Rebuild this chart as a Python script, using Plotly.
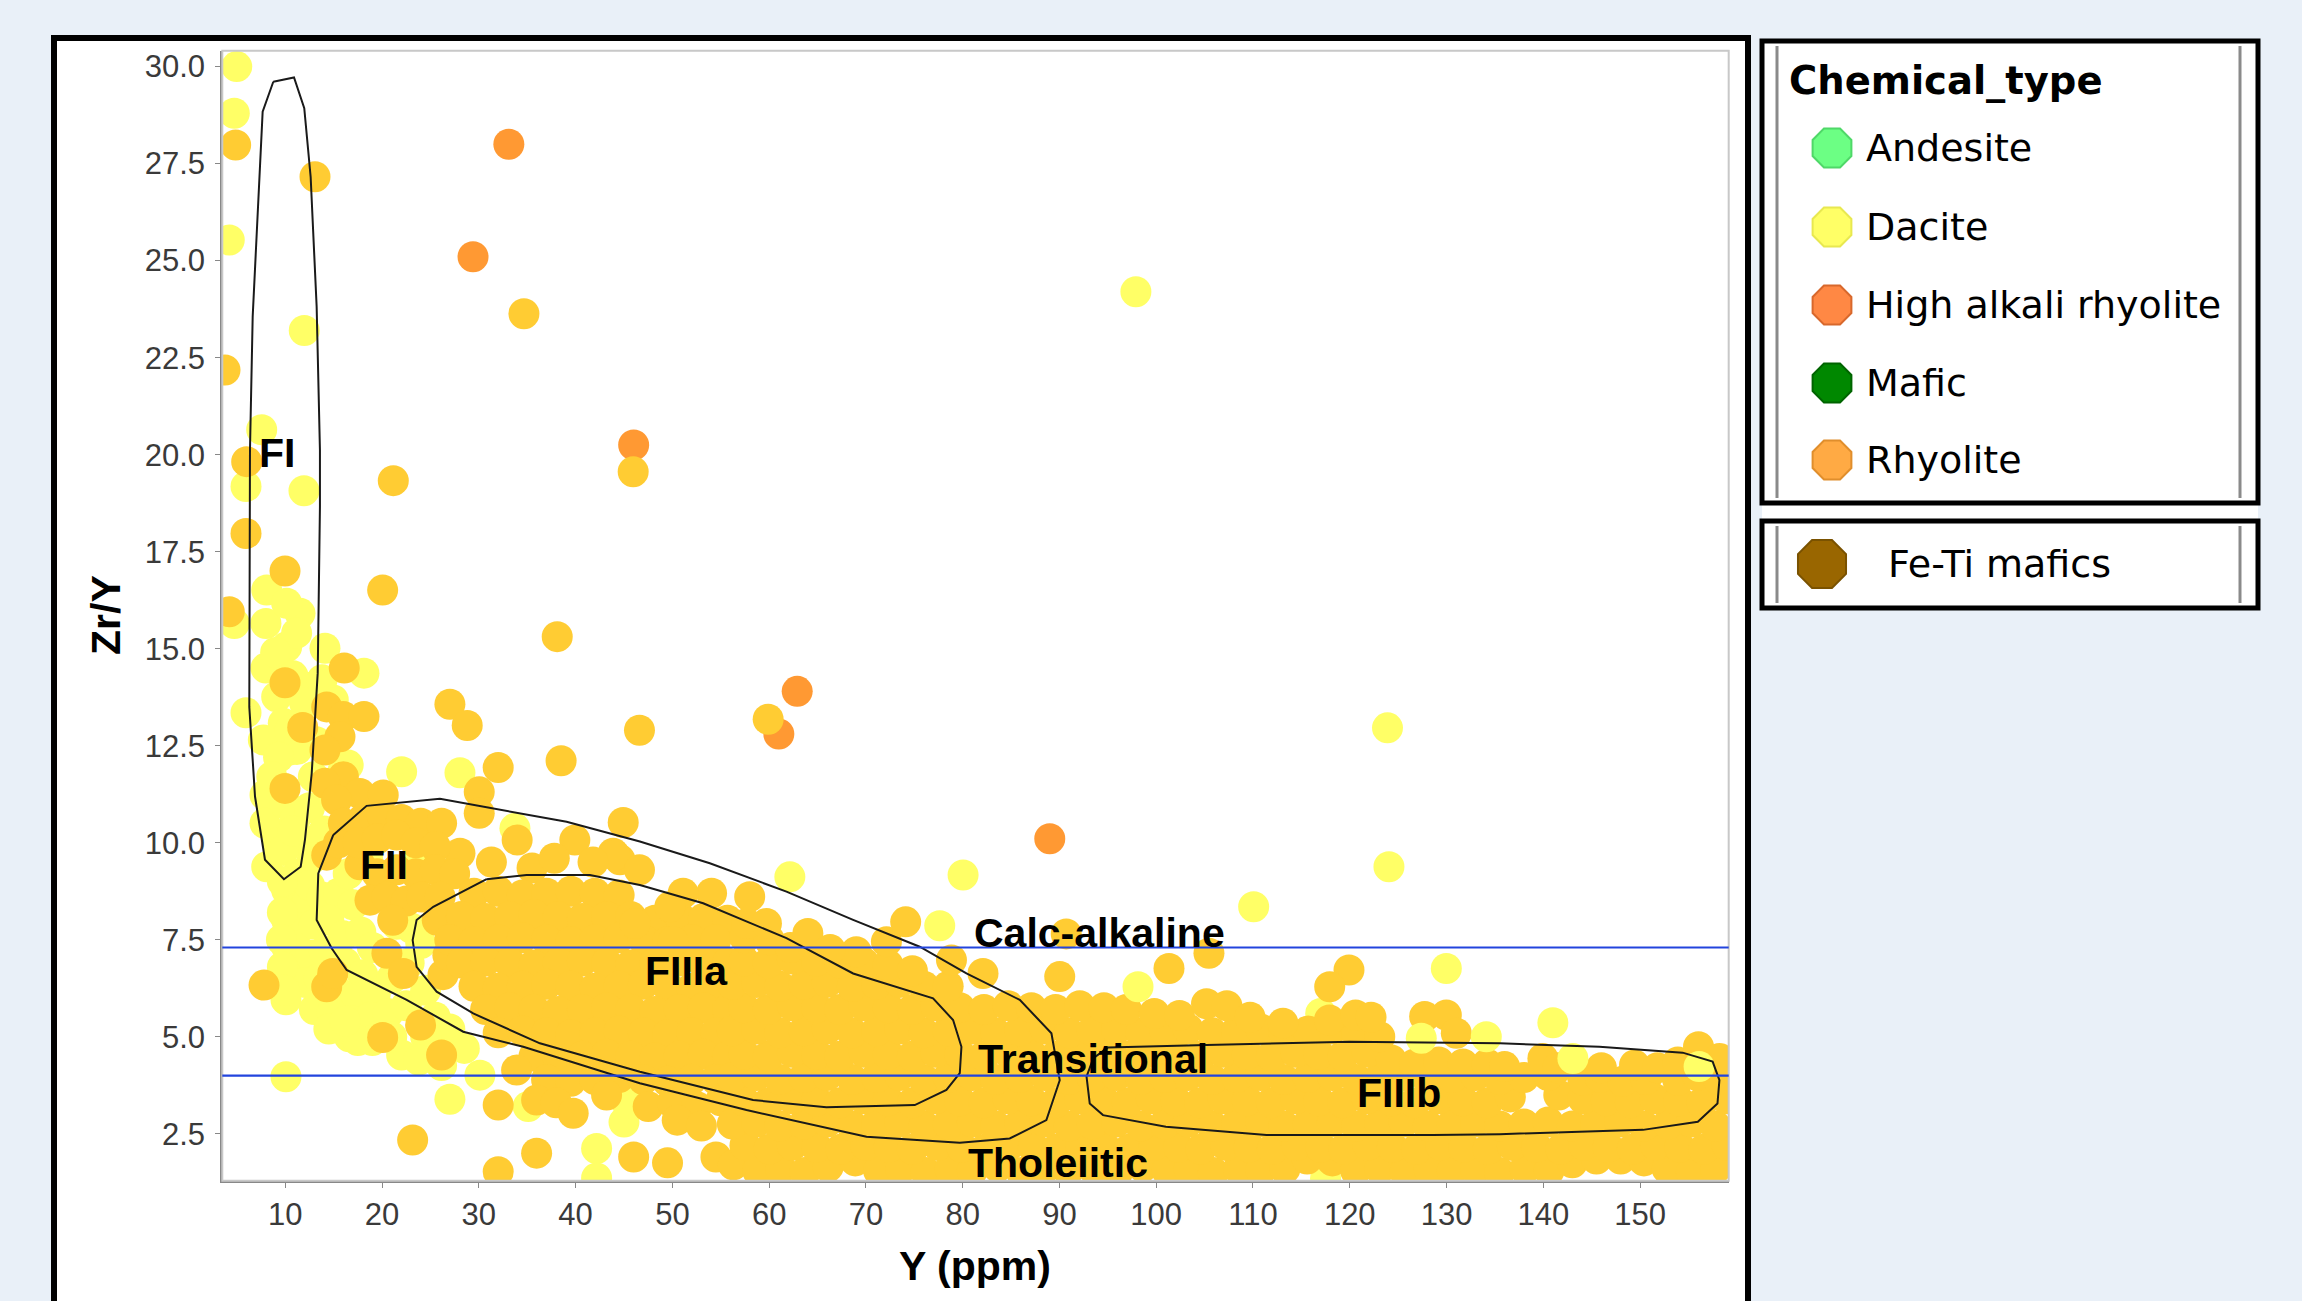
import plotly.graph_objects as go

W, H = 2302, 1301

# ---------------- values ----------------
x_ticks = [10, 20, 30, 40, 50, 60, 70, 80, 90, 100, 110, 120, 130, 140, 150]
y_ticks = [2.5, 5.0, 7.5, 10.0, 12.5, 15.0, 17.5, 20.0, 22.5, 25.0, 27.5, 30.0]
x_range = [3.49, 159.16]
y_range = [1.29, 30.41]
calc_alk_line = 7.3
tholeiitic_line = 4.0

legend_names = ["Andesite", "Dacite", "High alkali rhyolite", "Mafic", "Rhyolite"]
legend_fill = ["#6CFF84", "#FFFF66", "#FF8844", "#008800", "#FFAA44"]
legend_edge = ["#4FD868", "#E8E850", "#D8682C", "#006400", "#E08E2C"]
extra_name = "Fe-Ti mafics"
extra_fill = "#996600"

# High alkali rhyolite samples
hak_x = [33.1, 29.4, 46.0, 62.9, 61.0, 89.0]
hak_y = [28.0, 25.1, 20.25, 13.9, 12.8, 10.1]

# Dacite samples
dacite_pts = [
    (4.98, 30.0), (4.73, 28.8), (4.21, 25.53), (11.96, 23.2), (7.56, 20.64), (5.94, 19.18),
    (11.93, 19.07), (8.08, 16.51), (4.73, 15.65), (8.0, 15.65), (11.52, 15.91), (10.14, 16.17),
    (10.14, 15.05), (14.1, 15.01), (11.17, 15.4), (18.13, 14.37), (8.0, 14.5), (12.89, 14.02),
    (9.11, 13.76), (14.96, 13.68), (5.94, 13.35), (9.79, 13.08), (7.73, 12.65), (10.48, 12.39),
    (28.05, 11.8), (22.02, 11.83), (15.99, 11.87), (7.9, 11.23), (33.73, 10.37), (7.9, 10.5),
    (11.86, 10.07), (23.9, 9.64), (8.08, 9.38), (10.14, 8.78), (10.14, 8.01), (10.14, 7.32),
    (12.21, 8.44), (10.07, 5.95), (16.61, 5.0), (22.02, 4.53), (26.15, 4.26), (30.11, 4.01),
    (27.01, 3.39), (35.1, 3.2), (10.07, 3.97), (42.17, 2.12), (42.17, 1.36), (62.14, 9.12),
    (80.04, 9.17), (77.63, 7.86), (97.9, 24.2), (123.9, 12.96), (124.05, 9.38), (110.07, 8.35),
    (129.98, 6.76),
    (9.0, 14.9), (10.8, 14.3), (12.0, 13.6), (10.5, 12.9), (11.2, 12.4), (9.3, 12.2), (8.6, 11.7),
    (10.0, 11.0), (11.0, 10.6), (12.5, 10.9), (12.9, 11.7), (13.2, 12.6), (9.2, 10.0), (12.8, 9.6),
    (14.0, 10.3), (16.5, 12.0), (13.8, 14.2), (9.8, 9.8), (10.8, 10.3),
    (11.3, 9.2), (12.5, 8.9), (13.8, 8.6), (15.5, 8.7), (17.0, 8.4), (11.5, 7.8), (13.0, 7.9),
    (14.5, 8.0), (16.0, 7.6), (17.8, 7.7), (19.0, 7.3), (11.2, 7.0), (12.6, 7.1), (14.0, 7.2),
    (16.2, 6.9), (18.0, 6.6), (12.0, 6.4), (13.5, 6.5), (15.3, 6.2), (17.2, 6.0), (19.3, 6.1),
    (21.0, 6.5), (22.8, 6.9), (24.0, 7.4), (23.0, 7.8), (21.5, 7.9), (13.0, 5.7), (14.8, 5.6),
    (17.0, 5.4), (18.8, 5.5), (20.6, 5.6), (22.5, 5.8), (24.5, 6.2), (25.5, 5.5), (27.0, 5.2),
    (24.5, 5.0), (21.0, 5.0), (19.0, 4.9), (28.5, 4.7), (23.8, 4.4), (17.5, 4.9), (14.5, 5.2),
    (16.2, 5.4), (9.7, 9.0), (9.7, 8.2), (9.6, 7.5), (9.7, 6.8), (9.9, 6.2), (16.5, 9.2), (18.5, 9.6),
    (117.0, 5.6), (117.5, 1.35), (70.5, 6.75), (45.0, 2.8), (45.3, 3.3), (57.8, 3.0),
]
# Dacite samples plotted over the rhyolite cloud
dacite_top_pts = [(127.39, 4.96), (134.11, 5.0), (140.99, 5.36), (143.06, 4.44), (156.1, 4.23), (98.12, 6.29)]

# Rhyolite samples: scattered ones
rhy_scatter_pts = [
    (4.87, 27.98), (13.07, 27.16), (3.77, 22.18), (34.66, 23.63), (45.95, 19.56), (6.01, 19.82),
    (21.16, 19.33), (5.94, 17.97), (9.97, 17.0), (4.21, 15.95), (20.06, 16.51), (38.1, 15.31),
    (16.09, 14.5), (9.97, 14.12), (14.28, 13.5), (15.99, 13.25), (18.13, 13.25), (27.01, 13.57),
    (28.8, 13.02), (11.8, 12.97), (15.65, 12.73), (14.1, 12.39), (46.6, 12.9), (38.5, 12.11),
    (32.0, 11.94), (59.9, 13.18), (16.0, 11.7), (14.1, 11.53), (9.97, 11.4), (30.04, 11.31),
    (30.04, 10.76), (17.71, 11.27), (20.12, 11.23), (15.3, 11.1), (44.92, 10.52), (33.96, 10.07),
    (39.92, 10.07), (28.05, 9.73), (43.88, 9.73), (7.8, 6.33), (14.28, 6.29), (14.9, 6.63),
    (14.28, 9.68), (17.71, 9.43), (20.06, 4.98), (23.98, 5.3), (26.15, 4.53), (23.16, 2.34),
    (90.7, 7.65), (105.45, 7.15), (101.32, 6.76), (119.92, 6.72), (117.93, 6.29), (44.58, 9.56),
    (44.06, 9.68), (31.3, 9.5), (35.5, 9.35), (37.8, 9.6), (41.8, 9.5), (46.6, 9.3),
]
# Rhyolite samples in the FII field
rhy_fii_pts = [
    (16.0, 10.5), (18.0, 10.6), (20.0, 10.7), (22.0, 10.6), (24.0, 10.5), (26.15, 10.5),
    (15.5, 10.0), (17.5, 10.0), (19.5, 10.1), (21.5, 10.2), (23.5, 10.0), (25.5, 9.9),
    (19.5, 9.2), (21.5, 9.3), (23.5, 9.2), (25.5, 9.3), (27.5, 9.2), (18.75, 8.52), (20.5, 8.6),
    (22.5, 8.5), (24.1, 8.6), (26.0, 8.6), (21.1, 8.0), (25.7, 8.0), (20.5, 7.15), (22.2, 6.63),
    (26.3, 6.6), (26.8, 7.1),
]
# Rhyolite samples in the FIIIa field
rhy_fiiia_pts = [
    (29.5, 8.7), (32.0, 8.75), (34.5, 8.65), (37.0, 8.7), (39.5, 8.75), (42.0, 8.7), (44.5, 8.65),
    (28.2, 8.1), (30.7, 8.05), (33.2, 8.1), (35.7, 8.15), (38.2, 8.1), (40.7, 8.05), (43.2, 8.1),
    (45.7, 8.1), (48.2, 8.0), (50.7, 8.1), (53.2, 8.05), (55.7, 8.0),
    (27.0, 7.5), (29.5, 7.45), (32.0, 7.5), (34.5, 7.55), (37.0, 7.5), (39.5, 7.45), (42.0, 7.5),
    (44.5, 7.55), (47.0, 7.5), (49.5, 7.45), (52.0, 7.5), (54.5, 7.5),
    (28.2, 6.9), (30.7, 6.95), (33.2, 6.9), (35.7, 6.85), (38.2, 6.9), (40.7, 6.95), (43.2, 6.9),
    (45.7, 6.85), (48.2, 6.9), (50.7, 6.95), (53.2, 6.9), (55.7, 6.9),
    (29.5, 6.3), (32.0, 6.25), (34.5, 6.3), (37.0, 6.35), (39.5, 6.3), (42.0, 6.25), (44.5, 6.3),
    (47.0, 6.35), (49.5, 6.3), (52.0, 6.25), (54.5, 6.3),
    (30.7, 5.7), (33.2, 5.75), (35.7, 5.7), (38.2, 5.65), (40.7, 5.7), (43.2, 5.75), (45.7, 5.7),
    (48.2, 5.65), (50.7, 5.7), (53.2, 5.75), (55.7, 5.7),
    (32.0, 5.1), (34.5, 5.15), (37.0, 5.1), (39.5, 5.05), (42.0, 5.1), (44.5, 5.15), (47.0, 5.1),
    (49.5, 5.05), (52.0, 5.1), (54.5, 5.1),
    (35.7, 4.5), (38.2, 4.45), (40.7, 4.5), (43.2, 4.55), (45.7, 4.5), (48.2, 4.45), (50.7, 4.5),
    (53.2, 4.55), (55.7, 4.5),
    (33.9, 4.14), (37.0, 3.9), (39.5, 3.85), (42.0, 3.9), (44.5, 3.95), (47.0, 3.9), (49.5, 3.85),
    (52.0, 3.9), (54.5, 3.9),
    (32.0, 3.24), (35.97, 3.37), (38.0, 3.3), (39.75, 3.03), (43.2, 3.5), (47.5, 3.2), (50.0, 3.3),
    (52.5, 3.2), (55.0, 3.35),
    (32.0, 1.52), (35.97, 2.0), (46.0, 1.9), (49.5, 1.75), (50.5, 2.85), (53.0, 2.7), (54.5, 1.9),
]
# Rhyolite samples in the low Zr/Y band (FII tail, FIIIb)
rhy_band_pts = [
    (56.3, 1.7), (58.8, 1.55), (61.2, 1.6), (63.7, 1.5), (66.1, 1.65), (68.9, 1.8), (71.3, 1.55),
    (73.6, 1.6), (76.2, 1.5), (78.7, 1.6), (81.0, 1.55), (83.6, 1.65), (86.1, 1.5), (88.4, 1.6),
    (90.9, 1.55), (93.5, 1.6), (96.0, 1.5), (98.6, 1.65), (101.1, 1.55), (103.4, 1.6), (105.9, 1.5),
    (108.5, 1.6), (110.8, 1.55), (113.3, 1.6), (115.6, 1.85), (118.2, 1.8), (120.6, 1.55),
    (123.1, 1.6), (125.7, 1.5), (128.2, 1.6), (130.6, 1.55), (133.0, 1.6), (135.5, 1.5), (138.1, 1.6),
    (140.6, 1.55), (143.0, 1.75), (145.5, 1.85), (148.0, 1.85), (150.4, 1.8), (152.8, 1.6),
    (155.3, 1.5), (157.8, 1.6),
    (57.5, 2.2), (60.0, 2.1), (62.4, 2.2), (64.9, 2.15), (67.4, 2.1), (70.0, 2.2), (72.4, 2.15),
    (74.8, 2.1), (77.4, 2.2), (79.9, 2.15), (82.3, 2.1), (84.8, 2.2), (87.3, 2.15), (89.7, 2.1),
    (92.2, 2.2), (94.7, 2.15), (97.2, 2.1), (99.8, 2.2), (102.3, 2.15), (104.6, 2.1), (107.2, 2.2),
    (109.6, 2.15), (112.0, 2.1), (114.5, 2.2), (117.0, 2.15), (119.4, 2.1), (121.9, 2.2),
    (124.4, 2.15), (126.9, 2.1), (129.4, 2.2), (131.8, 2.15), (134.3, 2.1), (136.8, 2.2),
    (139.3, 2.15), (141.8, 2.1), (144.2, 2.2), (146.7, 2.15), (149.2, 2.1), (151.6, 2.2),
    (154.1, 2.15), (156.6, 2.1), (159.0, 2.2),
    (56.2, 2.75), (58.7, 2.8), (61.1, 2.7), (63.6, 2.75), (66.0, 2.8), (68.6, 2.7), (71.1, 2.75),
    (73.5, 2.8), (76.0, 2.7), (78.5, 2.75), (81.0, 2.8), (83.4, 2.7), (85.9, 2.75), (88.5, 2.8),
    (91.0, 2.7), (93.4, 2.75), (95.9, 2.8), (98.4, 2.7), (100.9, 2.75), (103.3, 2.8), (105.8, 2.7),
    (108.3, 2.75), (110.8, 2.8), (113.2, 2.7), (115.7, 2.75), (118.2, 2.8), (120.7, 2.7),
    (123.1, 2.75), (125.6, 2.8), (128.1, 2.7), (130.6, 2.75), (133.0, 2.8), (135.5, 2.7),
    (138.0, 2.75), (140.5, 2.8), (143.0, 2.7), (145.4, 2.75), (147.9, 2.8), (150.4, 2.7),
    (152.9, 2.75), (155.3, 2.8), (157.8, 2.7),
    (57.4, 3.35), (59.9, 3.3), (62.4, 3.4), (64.9, 3.35), (67.3, 3.3), (69.8, 3.4), (72.3, 3.35),
    (74.8, 3.3), (77.2, 3.4), (79.7, 3.35), (82.2, 3.3), (84.7, 3.4), (87.1, 3.35), (89.6, 3.3),
    (92.1, 3.4), (94.6, 3.35), (97.0, 3.3), (99.5, 3.4), (102.0, 3.35), (104.5, 3.3), (106.9, 3.4),
    (109.4, 3.35), (111.9, 3.3), (114.4, 3.4), (116.8, 3.35), (119.3, 3.3), (121.8, 3.4),
    (124.3, 3.35), (126.7, 3.3), (129.2, 3.4), (131.7, 3.35), (134.2, 3.3), (136.6, 3.45),
    (141.6, 3.5), (144.1, 3.4), (146.5, 3.35), (149.0, 3.3), (151.5, 3.4), (154.0, 3.35),
    (156.4, 3.3), (158.9, 3.4),
    (56.2, 3.95), (58.7, 4.0), (61.1, 3.9), (63.6, 3.95), (66.0, 4.0), (68.6, 3.9), (71.1, 3.95),
    (73.5, 4.0), (76.0, 3.9), (78.5, 3.95), (81.0, 4.0), (83.4, 3.9), (85.9, 3.95), (88.5, 4.0),
    (91.0, 3.9), (93.4, 3.95), (95.9, 4.0), (98.4, 3.9), (100.9, 3.95), (103.3, 4.0), (105.8, 3.9),
    (108.3, 3.95), (110.8, 4.0), (113.2, 3.9), (115.7, 3.95), (118.2, 4.0), (120.7, 3.9),
    (123.1, 3.95), (125.6, 4.0), (128.1, 3.9), (130.6, 3.95), (133.0, 4.0), (135.5, 3.9),
    (138.0, 3.95), (140.5, 4.0), (144.1, 3.88), (145.9, 3.95), (148.2, 3.85), (150.6, 3.9),
    (153.9, 3.88), (155.9, 4.0), (158.1, 3.9),
    (57.4, 4.55), (59.9, 4.5), (62.4, 4.6), (64.9, 4.55), (67.3, 4.5), (69.8, 4.6), (72.3, 4.55),
    (74.8, 4.5), (77.2, 4.6), (79.7, 4.55), (82.2, 4.5), (84.7, 4.6), (87.1, 4.55), (89.6, 4.5),
    (92.1, 4.6), (94.6, 4.55), (97.0, 4.5), (99.5, 4.6), (102.0, 4.55), (104.5, 4.5), (106.9, 4.6),
    (109.4, 4.55), (111.9, 4.5), (114.4, 4.6), (116.8, 4.55), (119.3, 4.5), (121.8, 4.6),
    (124.3, 4.4), (126.7, 4.3), (129.2, 4.35), (131.7, 4.3), (134.2, 4.3), (136.0, 4.23),
    (139.96, 4.44), (141.5, 4.2), (146.0, 4.2), (149.43, 4.27), (151.8, 4.2), (153.9, 4.35),
    (156.04, 4.74), (158.2, 4.44),
    (56.2, 5.15), (58.7, 5.2), (61.1, 5.1), (63.6, 5.15), (66.0, 5.2), (68.6, 5.1), (71.1, 5.15),
    (73.5, 5.2), (76.0, 5.1), (78.5, 5.15), (81.0, 5.2), (83.4, 5.1), (85.9, 5.15), (88.5, 5.2),
    (91.0, 5.1), (93.4, 5.15), (95.9, 5.2), (98.4, 5.1), (100.9, 5.15), (103.3, 5.2), (105.8, 5.1),
    (108.3, 5.15), (110.8, 5.2), (113.2, 5.1), (115.7, 5.15), (118.2, 5.2), (120.7, 5.1),
    (123.1, 5.0), (127.74, 5.52), (129.98, 5.56), (131.01, 5.09),
    (57.4, 5.75), (59.9, 5.7), (62.4, 5.8), (64.9, 5.75), (67.3, 5.7), (69.8, 5.8), (72.3, 5.75),
    (74.8, 5.7), (77.2, 5.8), (79.7, 5.75), (82.2, 5.7), (84.7, 5.8), (87.1, 5.75), (89.6, 5.7),
    (92.1, 5.8), (94.6, 5.75), (96.9, 5.7), (99.8, 5.6), (102.4, 5.55), (105.2, 5.85), (107.3, 5.8),
    (109.7, 5.5), (113.1, 5.35), (117.9, 5.43), (120.6, 5.56), (122.2, 5.5),
    (56.2, 6.35), (58.7, 6.4), (61.1, 6.3), (63.6, 6.35), (66.0, 6.4), (68.6, 6.3), (71.1, 6.35),
    (73.5, 6.4), (76.0, 6.3), (78.5, 6.3), (82.1, 6.63), (90.03, 6.55), (78.84, 6.98),
    (57.4, 6.95), (59.9, 6.9), (62.4, 7.0), (64.9, 6.95), (67.3, 6.9), (69.8, 6.9), (72.3, 6.85),
    (74.8, 6.7), (69.0, 7.19), (72.12, 7.45), (74.11, 7.96),
    (57.5, 7.55), (60.0, 7.5), (62.2, 7.3), (64.0, 7.66), (66.3, 7.25), (57.66, 7.92), (59.72, 7.92),
    (57.99, 8.61), (54.05, 8.7), (51.11, 8.7), (49.74, 8.35), (46.13, 7.92), (50.08, 7.45),
]

# Field outlines (FI, FII, FIIIa, FIIIb)
fi_x = [8.76, 10.9, 11.96, 12.62, 13.24, 13.58, 13.58, 13.35, 12.73, 12.03, 11.59, 9.86, 7.9, 6.87, 6.28, 6.35, 6.63, 7.25, 7.66, 8.76]
fi_y = [29.61, 29.72, 28.93, 27.16, 23.81, 20.12, 18.66, 14.37, 11.79, 10.07, 9.38, 9.06, 9.56, 11.19, 13.5, 20.12, 23.56, 26.65, 28.84, 29.61]
fii_x = [14.96, 18.4, 25.98, 31.14, 39.07, 46.64, 53.87, 61.79, 68.68, 75.56, 80.39, 85.9, 89.17, 90.03, 88.65, 84.86, 79.7, 70.06, 57.66, 46.64, 34.59, 28.39, 22.54, 16.34, 14.79, 13.24, 13.41, 14.96]
fii_y = [10.2, 10.95, 11.13, 10.89, 10.54, 10.03, 9.47, 8.74, 8.01, 7.32, 6.63, 5.95, 5.09, 3.88, 2.85, 2.38, 2.27, 2.42, 3.11, 3.8, 4.74, 5.13, 5.95, 6.72, 7.28, 8.01, 9.21, 10.2]
fiiia_x = [30.8, 34.93, 41.47, 46.64, 53.18, 61.79, 68.68, 76.94, 79.01, 79.87, 79.7, 78.32, 75.05, 65.92, 58.34, 46.64, 36.31, 29.42, 25.64, 23.57, 23.16, 23.57, 25.29, 30.8]
fiiia_y = [9.06, 9.17, 9.17, 8.91, 8.44, 7.54, 6.63, 5.99, 5.43, 4.74, 4.06, 3.63, 3.24, 3.18, 3.37, 4.1, 4.83, 5.6, 6.16, 6.8, 7.49, 8.01, 8.35, 9.06]
fiiib_x = [95.0, 105.18, 120.0, 135.5, 145.8, 154.4, 157.5, 158.2, 158.0, 155.97, 150.3, 135.5, 128.6, 111.4, 101.0, 94.5, 93.13, 92.8, 93.5, 95.0]
fiiib_y = [4.72, 4.79, 4.87, 4.83, 4.74, 4.59, 4.36, 3.88, 3.28, 2.81, 2.6, 2.49, 2.47, 2.47, 2.68, 2.98, 3.28, 3.97, 4.45, 4.72]

field_labels = ["FI", "FII", "FIIIa", "FIIIb", "Calc-alkaline", "Transitional", "Tholeiitic"]
field_label_x = [9.14, 20.2, 51.42, 125.1, 94.16, 93.45, 89.9]
field_label_y = [20.05, 9.43, 6.70, 3.56, 7.68, 4.43, 1.74]

# ---------------- figure ----------------
def fx(px):
    return px / W

def fy(py):
    return 1 - py / H

GOLD = "#FFCC33"
YEL = "#FFFF66"
ORG = "#FF9933"
MS = 31
FONT = "Liberation Sans, Arial, sans-serif"

def xs(pts):
    return [p[0] for p in pts]

def ys(pts):
    return [p[1] for p in pts]

fig = go.Figure()

def pts_trace(x, y, color, name):
    fig.add_trace(go.Scatter(x=x, y=y, mode="markers", name=name, showlegend=False,
                             marker=dict(size=MS, color=color, opacity=1, line=dict(width=0)),
                             hoverinfo="skip"))

pts_trace(hak_x, hak_y, ORG, "High alkali rhyolite")
pts_trace(xs(dacite_pts), ys(dacite_pts), YEL, "Dacite")
rhy_all = rhy_scatter_pts + rhy_fii_pts + rhy_fiiia_pts + rhy_band_pts
pts_trace(xs(rhy_all), ys(rhy_all), GOLD, "Rhyolite")
pts_trace(xs(dacite_top_pts), ys(dacite_top_pts), YEL, "Dacite")

for px_, py_ in [(fi_x, fi_y), (fii_x, fii_y), (fiiia_x, fiiia_y), (fiiib_x, fiiib_y)]:
    fig.add_trace(go.Scatter(x=px_, y=py_, mode="lines", showlegend=False, hoverinfo="skip",
                             line=dict(color="#1a1a1a", width=2)))

# legend symbols (on a hidden pixel-space axis)
leg_y = [148, 227, 305, 383, 460]
fig.add_trace(go.Scatter(
    x=[1832] * 5 + [1822], y=leg_y + [564], mode="markers", xaxis="x2", yaxis="y2",
    showlegend=False, hoverinfo="skip", cliponaxis=False,
    marker=dict(symbol="octagon", size=[42] * 5 + [52], opacity=1,
                color=legend_fill + [extra_fill],
                line=dict(width=2, color=legend_edge + ["#7A5200"]))))

shapes = []
# outer chart frame
shapes.append(dict(type="rect", xref="paper", yref="paper", x0=fx(54), x1=fx(1748),
                   y0=fy(1340), y1=fy(38), line=dict(color="black", width=6),
                   fillcolor="white", layer="below"))
# plot area border (light)
shapes.append(dict(type="rect", xref="x domain", yref="y domain", x0=0, x1=1, y0=0, y1=1,
                   line=dict(color="#c8c8c8", width=2), layer="above"))
# divider lines
for yv in [calc_alk_line, tholeiitic_line]:
    shapes.append(dict(type="line", xref="x domain", yref="y", x0=0, x1=1, y0=yv, y1=yv,
                       line=dict(color="#2244dd", width=2.2), layer="above"))
# legend boxes
for (t, b) in [(41, 503), (521, 608)]:
    shapes.append(dict(type="rect", xref="paper", yref="paper", x0=fx(1762), x1=fx(2258),
                       y0=fy(b), y1=fy(t), line=dict(color="black", width=5),
                       fillcolor="white", layer="below"))
    for xv in [1777, 2240]:
        shapes.append(dict(type="line", xref="paper", yref="paper", x0=fx(xv), x1=fx(xv),
                           y0=fy(b - 5), y1=fy(t + 5), line=dict(color="#8a8a8a", width=3),
                           layer="below"))

annotations = []
for txt, ax, ay in zip(field_labels, field_label_x, field_label_y):
    annotations.append(dict(x=ax, y=ay, xref="x", yref="y", text="<b>%s</b>" % txt,
                            showarrow=False, xanchor="center", yanchor="middle",
                            font=dict(family=FONT, size=41, color="black")))
annotations.append(dict(x=fx(975), y=fy(1266), xref="paper", yref="paper",
                        text="<b>Y (ppm)</b>", showarrow=False, xanchor="center",
                        yanchor="middle", font=dict(family=FONT, size=41, color="black")))
annotations.append(dict(x=fx(106), y=fy(615), xref="paper", yref="paper",
                        text="<b>Zr/Y</b>", showarrow=False, xanchor="center", textangle=-90,
                        yanchor="middle", font=dict(family=FONT, size=41, color="black")))
LEGFONT = "DejaVu Sans, Verdana, sans-serif"
annotations.append(dict(x=fx(1787), y=fy(81), xref="paper", yref="paper",
                        text="<b>Chemical_type</b>", showarrow=False, xanchor="left",
                        yanchor="middle", font=dict(family=LEGFONT, size=38.5, color="black")))
for name, yy in zip(legend_names, leg_y):
    annotations.append(dict(x=fx(1864), y=fy(yy), xref="paper", yref="paper", text=name,
                            showarrow=False, xanchor="left", yanchor="middle",
                            font=dict(family=LEGFONT, size=38, color="black")))
annotations.append(dict(x=fx(1886), y=fy(564), xref="paper", yref="paper", text=extra_name,
                        showarrow=False, xanchor="left", yanchor="middle",
                        font=dict(family=LEGFONT, size=38, color="black")))

fig.update_layout(
    width=W, height=H, template="none",
    margin=dict(l=0, r=0, t=0, b=0, pad=0),
    paper_bgcolor="#E9F0F8", plot_bgcolor="white",
    showlegend=False,
    font=dict(family=FONT),
    xaxis=dict(domain=[fx(222.3), fx(1728.7)], range=x_range, tickvals=x_ticks,
               ticks="outside", ticklen=5, tickwidth=1, tickcolor="#888",
               showline=True, linecolor="#888", linewidth=2, showgrid=False, zeroline=False,
               tickfont=dict(family=FONT, size=31, color="#3a3a3a"), automargin=False,
               ticklabelstandoff=0),
    yaxis=dict(domain=[fy(1180.7), fy(50.7)], range=y_range, tickvals=y_ticks,
               ticktext=["%.1f" % v for v in y_ticks],
               ticks="outside", ticklen=5, tickwidth=1, tickcolor="#888",
               showline=True, linecolor="#888", linewidth=2, showgrid=False, zeroline=False,
               tickfont=dict(family=FONT, size=31, color="#3a3a3a"), automargin=False,
               ticklabelstandoff=4),
    xaxis2=dict(domain=[fx(1762), fx(2258)], range=[1762, 2258], visible=False,
                anchor="y2", fixedrange=True),
    yaxis2=dict(domain=[fy(608), fy(41)], range=[608, 41], visible=False,
                anchor="x2", fixedrange=True),
    shapes=shapes, annotations=annotations,
)

fig.write_html("out.html", config={"displayModeBar": False})
